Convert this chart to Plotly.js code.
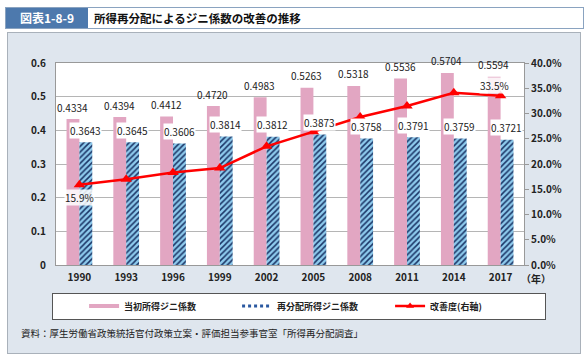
<!DOCTYPE html>
<html><head><meta charset="utf-8">
<script src="https://cdn.plot.ly/plotly-3.0.1.min.js"></script>
<style>
html,body{margin:0;padding:0;width:586px;height:357px;overflow:hidden;background:#fff;font-family:"Noto Sans CJK JP","Noto Sans",sans-serif;}
#tbar{position:absolute;left:5px;top:7px;width:577px;height:20px;border:1px solid #8aa3c0;background:#fff;}
#tnum{position:absolute;left:0;top:0;width:82px;height:20px;background:#4d79ad;color:#fff;font-weight:bold;font-size:12px;line-height:20px;text-align:center;}
#ttext{position:absolute;left:88px;top:0;height:20px;line-height:20px;font-weight:bold;font-size:11.5px;color:#111;}
#panel{position:absolute;left:7px;top:32px;width:572px;height:320px;background:#dfe6ee;border:1px solid #a9b1ba;}
#legbox{position:absolute;left:52px;top:293px;width:492px;height:25px;background:#fff;border:1px solid #555;}
#foot{position:absolute;left:21px;top:326px;font-size:9.5px;color:#222;}
#chart{position:absolute;left:0;top:0;width:586px;height:357px;}
</style></head>
<body>
<div id="tbar"><div id="tnum">図表1-8-9</div><div id="ttext">所得再分配によるジニ係数の改善の推移</div></div>
<div id="panel"></div>
<div id="legbox"></div>
<div id="foot">資料：厚生労働省政策統括官付政策立案・評価担当参事官室「所得再分配調査」</div>
<div id="chart"></div>
<script>
const years = ["1990","1993","1996","1999","2002","2005","2008","2011","2014","2017"];
const initialGini = [0.4334,0.4394,0.4412,0.4720,0.4983,0.5263,0.5318,0.5536,0.5704,0.5594];
const redistGini = [0.3643,0.3645,0.3606,0.3814,0.3812,0.3873,0.3758,0.3791,0.3759,0.3721];
const improvement = [15.9,17.0,18.3,19.2,23.5,26.4,29.3,31.5,34.1,33.5];
const nameInitial = "当初所得ジニ係数";
const nameRedist = "再分配所得ジニ係数";
const nameImprove = "改善度(右軸)";

const pink = "#e2a6c2";
const fontCJK = '"Noto Sans CJK JP","Noto Sans",sans-serif';
const tickFont = {size:10, color:"#222", family:fontCJK, weight:"bold"};

const traces = [
  {type:"bar", x:years, y:initialGini, name:nameInitial, marker:{color:pink}, showlegend:false, hoverinfo:"skip"},
  {type:"bar", x:years, y:redistGini, name:nameRedist, showlegend:false, hoverinfo:"skip",
   marker:{color:"#1b3566", pattern:{shape:"/", bgcolor:"#8ecbee", fgcolor:"#1b3566", size:4, solidity:0.38}}},
  {type:"scatter", mode:"lines+markers", x:years, y:improvement, yaxis:"y2", name:nameImprove, showlegend:false,
   line:{color:"#ff0000", width:2.5}, marker:{symbol:"triangle-up", size:10, color:"#ff0000"}, cliponaxis:false},
  // legend entries
  {type:"scatter", mode:"lines", x:[years[0]], y:[null], name:nameInitial, line:{color:pink, width:4}},
  {type:"scatter", mode:"lines", x:[years[0]], y:[null], name:nameRedist, line:{color:"#2a58a0", width:3, dash:"dot"}},
  {type:"scatter", mode:"lines+markers", x:[years[0]], y:[null], yaxis:"y2", name:nameImprove, line:{color:"#ff0000", width:2.5}, marker:{symbol:"triangle-up", size:7, color:"#ff0000"}}
];

const annotations = [];
years.forEach((yr,i)=>{
  annotations.push({x:i, y:initialGini[i], xref:"x", yref:"y", text:initialGini[i].toFixed(4), showarrow:false,
    xshift:-7, yshift:12, font:{size:10, color:"#222", family:fontCJK}});
  annotations.push({x:i, y:redistGini[i], xref:"x", yref:"y", text:redistGini[i].toFixed(4), showarrow:false,
    xshift:6, yshift:12, bgcolor:"#fff", borderpad:0, font:{size:10, color:"#222", family:fontCJK}});
});
[0, improvement.length-1].forEach((i,k)=>{
  annotations.push({x:i, y:improvement[i], xref:"x", yref:"y2", text:improvement[i].toFixed(1)+"%", showarrow:false,
    xshift:k===0?0:-6, yshift:k===0?-13:10, bgcolor:"rgba(255,255,255,0.85)", borderpad:0, font:{size:10, color:"#222", family:fontCJK}});
});
annotations.push({x:1.0, xref:"paper", y:-0.06, yref:"paper", text:"（年）", showarrow:false, xanchor:"left", yanchor:"middle",
  xshift:-5, yshift:-1, font:tickFont});

const layout = {
  width:586, height:357,
  margin:{l:56, r:62, t:63, b:92},
  paper_bgcolor:"rgba(0,0,0,0)", plot_bgcolor:"#fff",
  font:{family:fontCJK, size:10, color:"#222"},
  barmode:"group", bargap:0.45, bargroupgap:0,
  xaxis:{type:"category", categoryorder:"array", categoryarray:years, range:[-0.5, years.length-0.5],
    showline:true, linecolor:"#999", mirror:true, ticks:"", ticklabelstandoff:3, tickfont:tickFont},
  yaxis:{range:[0,0.6], dtick:0.1, showline:true, linecolor:"#999", mirror:true, gridcolor:"#b5b5b5", gridwidth:1, zeroline:false,
    ticks:"", ticklabelstandoff:7, tickfont:tickFont},
  yaxis2:{overlaying:"y", side:"right", range:[0,40], dtick:5, tickformat:".1f", ticksuffix:"%", showgrid:false, zeroline:false,
    ticks:"outside", ticklen:4, tickcolor:"#999", showline:false, tickfont:tickFont},
  legend:{orientation:"h", x:0.06, y:-0.203, xanchor:"left", yanchor:"middle", bgcolor:"rgba(0,0,0,0)",
    entrywidth:108, entrywidthmode:"pixels", itemwidth:30, font:{size:9, color:"#222", family:fontCJK, weight:"bold"}},
  annotations:annotations,
  showlegend:true
};
Plotly.newPlot("chart", traces, layout, {displayModeBar:false, staticPlot:true});
</script>
</body></html>
